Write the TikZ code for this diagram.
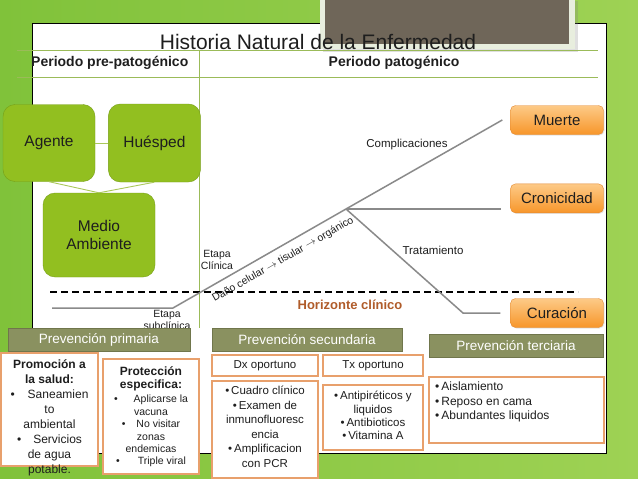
\documentclass[tikz,border=0pt]{standalone}
\usepackage{fontspec}
\setmainfont{Liberation Sans}
\usetikzlibrary{%
    positioning,%
    shadows
    }
\definecolor{mygreen1}{RGB}{146,191,32}
\definecolor{mygreen2}{RGB}{118,158,22}
\definecolor{mygreen3}{RGB}{170,200,90}
\definecolor{mygreen4}{RGB}{155,187,89}
\definecolor{myback1}{RGB}{128,194,58}
\definecolor{myback2}{RGB}{208,238,138}
\definecolor{myback3}{RGB}{158,210,84}
\definecolor{myorange1}{RGB}{253,202,135}
\definecolor{myorange2}{RGB}{247,150,42}
\definecolor{myorange3}{RGB}{232,160,108}
\definecolor{myorange4}{RGB}{228,136,48}
\definecolor{myolive1}{RGB}{138,145,96}
\definecolor{myolive2}{RGB}{112,118,76}
\definecolor{mybrown1}{RGB}{111,102,89}
\definecolor{mybrown2}{RGB}{176,92,42}
\definecolor{myframe}{RGB}{232,238,222}
\definecolor{mygray1}{RGB}{138,138,138}
\definecolor{mytext}{RGB}{30,30,30}
\newcommand{\vineta}[1]{\textbullet\hspace{#1}}
\tikzset{
  factor/.style={
    rectangle,
    rounded corners=12pt,
    inner sep=0pt,
    align=center,
    draw=mygreen2,
    fill=mygreen1,
    font=\color{mytext}\fontsize{15.5}{18.5}\selectfont,
  },
  salida/.style={
    rectangle,
    rounded corners=5pt,
    minimum width=93pt,
    minimum height=29pt,
    inner sep=0pt,
    draw=myorange4,
    top color=myorange1,
    bottom color=myorange2,
    drop shadow={opacity=0.2,shadow xshift=1pt,shadow yshift=-1pt},
    font=\color{mytext}\fontsize{15}{18}\selectfont,
  },
  barra/.style={
    rectangle,
    minimum height=23pt,
    inner sep=0pt,
    draw=myolive2,
    fill=myolive1,
    font=\color{white}\fontsize{13.5}{16}\selectfont,
  },
  caja/.style={
    rectangle,
    inner sep=0pt,
    line width=1.2pt,
    draw=myorange3,
    fill=white,
    font=\color{mytext}\fontsize{11.5}{14}\selectfont,
  },
  lista/.style={
    inner sep=0pt,
    align=center,
    font=\color{mytext}\fontsize{11.5}{14.5}\selectfont,
  },
  etiqueta/.style={
    inner sep=0pt,
    align=center,
    font=\color{mytext}\fontsize{11.5}{13}\selectfont,
  },
  etapa/.style={
    inner sep=0pt,
    align=center,
    font=\color{mytext}\fontsize{10.5}{12}\selectfont,
  },
  periodo/.style={
    inner sep=0pt,
    font=\color{mytext}\bfseries\fontsize{14}{16}\selectfont,
  },
  trayecto/.style={
    draw=mygray1,
    line width=1.5pt,
  },
  enlace/.style={
    draw=mygreen3,
    line width=0.9pt,
  },
  division/.style={
    draw=mygreen4,
    line width=1pt,
  },
}

\begin{document}
\begin{tikzpicture}[x=1pt,y=-1pt]
\useasboundingbox (0,0) rectangle (638,479);
\shade[left color=myback1, middle color=myback2, right color=myback3]
  (0,0) rectangle (638,479);
\filldraw[fill=white, draw=black, line width=1pt]
  (32,23) rectangle (606,453);
% foto
\fill[myframe, drop shadow={opacity=0.25}]
  (320,-2) rectangle (575,49);
\fill[mybrown1]
  (325,-2) rectangle (569,44);

\node[font=\color{mytext}\fontsize{21}{24}\selectfont]
  (titulo)
  at (318,42)
  {Historia Natural de la Enfermedad};

\draw[division] (17,50) -- (598,50);
\draw[division] (17,77) -- (598,77);
\draw[division] (199,50) -- (199,328);

\node[periodo, anchor=west]
  (prepat)
  at (31,63)
  {Periodo pre-patogénico};
\node[periodo]
  (pat)
  at (394,63)
  {Periodo patogénico};

\node[factor, minimum width=92pt, minimum height=77pt]
  (agente)
  at (49,143)
  {Agente};
\node[factor, minimum width=92pt, minimum height=78pt, right=13pt of agente]
  (huesped)
  {Huésped};
\node[factor, minimum width=112pt, minimum height=84pt]
  (medio)
  at (99,235)
  {Medio\\Ambiente};

\begin{scope}[enlace]
\draw
  (agente) -- (huesped);
\draw
  (agente.south) -- (medio.north);
\draw
  (huesped.south) -- (medio.north);
\end{scope}

\node[salida]
  (muerte)
  at (557,120)
  {Muerte};
\node[salida, below=49pt of muerte]
  (cronicidad)
  {Cronicidad};
\node[salida]
  (curacion)
  at (557,313)
  {Curación};

\coordinate (hizq) at (50,292);
\coordinate (hder) at (578,292);
\coordinate (inicio) at (52,308);
\coordinate (quiebre) at (173,308);
\coordinate (nodo) at (346,209);
\coordinate (baja) at (463,313);

\draw[black, line width=1.2pt, dash pattern=on 7pt off 4pt]
  (hizq) -- (hder);

\begin{scope}[trayecto]
\draw
  (inicio) -- (quiebre)
  -- node[pos=0.6, sloped, below=7pt, inner sep=0pt,
          font=\color{mytext}\fontsize{10.5}{12}\selectfont] (dano)
     {Daño celular $\rightarrow$ tisular $\rightarrow$ orgánico}
  (nodo) -- ([xshift=-8pt]muerte.west);
\draw
  (nodo) -- ([xshift=-9pt]nodo -| cronicidad.west);
\draw
  (nodo) -- (baja) -- ([xshift=-10pt]curacion.west);
\end{scope}

\node[etiqueta]
  (complic)
  at (407,145)
  {Complicaciones};
\node[etiqueta]
  (tratam)
  at (433,250)
  {Tratamiento};
\node[etapa]
  (clinica)
  at (217,260)
  {Etapa\\Clínica};
\node[etapa]
  (subclin)
  at (167,320)
  {Etapa\\subclínica};
\node[font=\color{mybrown2}\bfseries\fontsize{13}{15}\selectfont]
  (horiz)
  at (350,305)
  {Horizonte clínico};

\node[barra, minimum width=182pt]
  (primaria)
  at (99,340)
  {Prevención primaria};
\node[barra, minimum width=190pt]
  (secundaria)
  at (307,339.5)
  {Prevención secundaria};
\node[barra, minimum width=174pt]
  (terciaria)
  at (516,346)
  {Prevención terciaria};

\node[caja, minimum width=97pt, minimum height=113pt]
  (promocion)
  at (49.5,409.5)
  {};
\node[caja, minimum width=96pt, minimum height=115pt]
  (proteccion)
  at (151,416.5)
  {};
\node[caja, minimum width=106pt, minimum height=21pt]
  (dx)
  at (265,365.5)
  {Dx oportuno};
\node[caja, minimum width=100pt, minimum height=21pt]
  (tx)
  at (373,365.5)
  {Tx oportuno};
\node[caja, minimum width=106pt, minimum height=97pt]
  (cuadro)
  at (265,429.5)
  {};
\node[caja, minimum width=100pt, minimum height=65pt]
  (antipir)
  at (373,417.5)
  {};
\node[caja, minimum width=175pt, minimum height=66pt]
  (aislam)
  at (516.5,410)
  {};

\node[lista, anchor=north, font=\color{mytext}\fontsize{12}{15}\selectfont]
  (promtxt)
  at (49.5,359)
  {\textbf{Promoción a}\\\textbf{la salud:}\\\vineta{13pt}Saneamien\\to\\ambiental\\
   \vineta{12pt}Servicios\\de agua\\potable.};
\node[lista, anchor=north, font=\color{mytext}\bfseries\fontsize{12}{13}\selectfont]
  (prottit)
  at (151,366)
  {Protección\\especifica:};
\node[lista, anchor=north, font=\color{mytext}\fontsize{10.5}{12.4}\selectfont]
  (protlst)
  at (151,395)
  {\vineta{16pt}Aplicarse la\\vacuna\\\vineta{11pt}No visitar\\zonas\\endemicas\\
   \vineta{18pt}Triple viral};
\node[lista, anchor=north]
  (cuadrotxt)
  at (265,386)
  {\textbullet\,Cuadro clínico\\\textbullet\,Examen de\\inmunofluoresc\\encia\\
   \textbullet\,Amplificacion\\con PCR};
\node[lista, anchor=north, font=\color{mytext}\fontsize{11.5}{13.4}\selectfont]
  (antitxt)
  at (373,391)
  {\textbullet\,Antipiréticos y\\liquidos\\\textbullet\,Antibioticos\\\textbullet\,Vitamina A};
\node[lista, anchor=north west, align=left, font=\color{mytext}\fontsize{12}{14.5}\selectfont]
  (aislatxt)
  at (435,382)
  {\textbullet\,Aislamiento\\\textbullet\,Reposo en cama\\\textbullet\,Abundantes liquidos};
\end{tikzpicture}
\end{document}
